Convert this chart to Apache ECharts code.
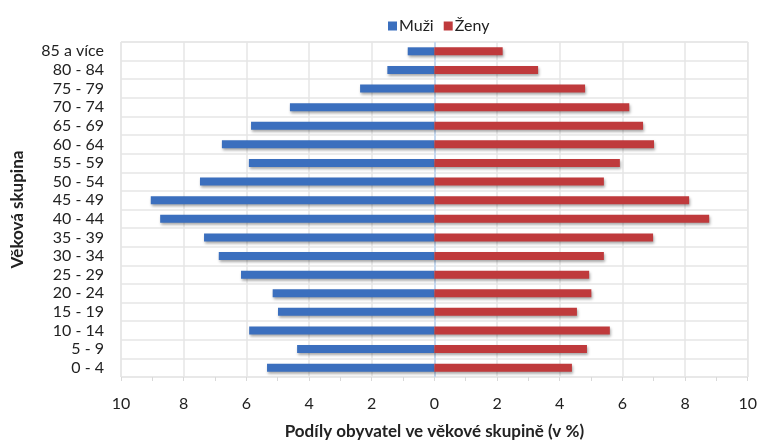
<!DOCTYPE html>
<html>
<head>
<meta charset="utf-8">
<script src="https://cdn.jsdelivr.net/npm/echarts@6/dist/echarts.min.js"></script>
<style>
  html, body { margin: 0; padding: 0; background: #fff; }
  #chart { width: 760px; height: 445px; }
</style>
</head>
<body>
<div id="chart"></div>
<script>
// Age groups, bottom to top
const ageGroups = ['0 - 4', '5 - 9', '10 - 14', '15 - 19', '20 - 24', '25 - 29', '30 - 34',
  '35 - 39', '40 - 44', '45 - 49', '50 - 54', '55 - 59', '60 - 64', '65 - 69', '70 - 74',
  '75 - 79', '80 - 84', '85 a více'];

// Share of population in each age group (%)
const men = [5.34, 4.38, 5.91, 4.99, 5.16, 6.17, 6.88, 7.35, 8.75, 9.05, 7.48, 5.92, 6.78,
  5.85, 4.61, 2.37, 1.50, 0.85];
const women = [4.39, 4.87, 5.60, 4.55, 5.01, 4.94, 5.41, 6.98, 8.77, 8.13, 5.41, 5.92, 7.01,
  6.66, 6.22, 4.81, 3.31, 2.18];

const seriesNames = ['Muži', 'Ženy'];
const axisTitleX = 'Podíly obyvatel ve věkové skupině (v %)';
const axisTitleY = 'Věková skupina';

const FONT = 'Lato, "Open Sans", sans-serif';
const BLUE = '#3b6fbe';
const RED = '#bf3a3c';

const chart = echarts.init(document.getElementById('chart'), null, { renderer: 'canvas' });

const barShadow = {
  shadowColor: 'rgba(0,0,0,0.35)',
  shadowBlur: 3,
  shadowOffsetX: 1,
  shadowOffsetY: 2
};

chart.setOption({
  animation: false,
  textStyle: { fontFamily: FONT },
  legend: {
    data: seriesNames,
    left: 383,
    top: 13,
    itemWidth: 9,
    itemHeight: 9,
    itemGap: 10,
    icon: 'rect',
    textStyle: { fontFamily: FONT, fontSize: 16, color: '#222', padding: [0, 0, 0, -3] }
  },
  grid: {
    left: 121,
    right: 10,
    top: 42,
    bottom: 62,
    show: true,
    borderColor: '#e3e3e3',
    borderWidth: 1
  },
  xAxis: {
    type: 'value',
    min: -10,
    max: 10,
    interval: 2,
    name: axisTitleX,
    nameLocation: 'middle',
    nameGap: 46,
    nameTextStyle: { fontFamily: FONT, fontSize: 17, fontWeight: 'bold', color: '#222' },
    axisLine: { show: false },
    axisTick: { show: true, length: 4, lineStyle: { color: '#d9d9d9' } },
    minorTick: { show: true, splitNumber: 2, length: 4, lineStyle: { color: '#d9d9d9' } },
    axisLabel: {
      margin: 19,
      fontFamily: FONT,
      fontSize: 16,
      color: '#222',
      formatter: v => String(Math.abs(v))
    },
    splitLine: { show: true, lineStyle: { color: '#e6e6e6', width: 1.5 } }
  },
  yAxis: {
    type: 'category',
    data: ageGroups,
    name: axisTitleY,
    nameLocation: 'middle',
    nameGap: 95,
    nameRotate: 90,
    nameTextStyle: { fontFamily: FONT, fontSize: 17, fontWeight: 'bold', color: '#222' },
    axisLine: { show: false },
    axisTick: { show: false },
    axisLabel: { interval: 0, margin: 17, fontFamily: FONT, fontSize: 16, color: '#222' },
    splitLine: { show: true, interval: 0, lineStyle: { color: '#e6e6e6', width: 1.5 } }
  },
  series: [
    {
      name: seriesNames[0],
      type: 'bar',
      stack: 'pyramid',
      barWidth: 8,
      itemStyle: Object.assign({ color: BLUE }, barShadow),
      data: men.map(v => -v),
      markLine: {
        silent: true,
        symbol: 'none',
        label: { show: false },
        lineStyle: { color: '#c5d8ef', width: 2, type: 'solid' },
        data: [{ xAxis: 0 }],
        z: 1
      }
    },
    {
      name: seriesNames[1],
      type: 'bar',
      stack: 'pyramid',
      barWidth: 8,
      itemStyle: Object.assign({ color: RED }, barShadow),
      data: women
    }
  ]
});
</script>
</body>
</html>
